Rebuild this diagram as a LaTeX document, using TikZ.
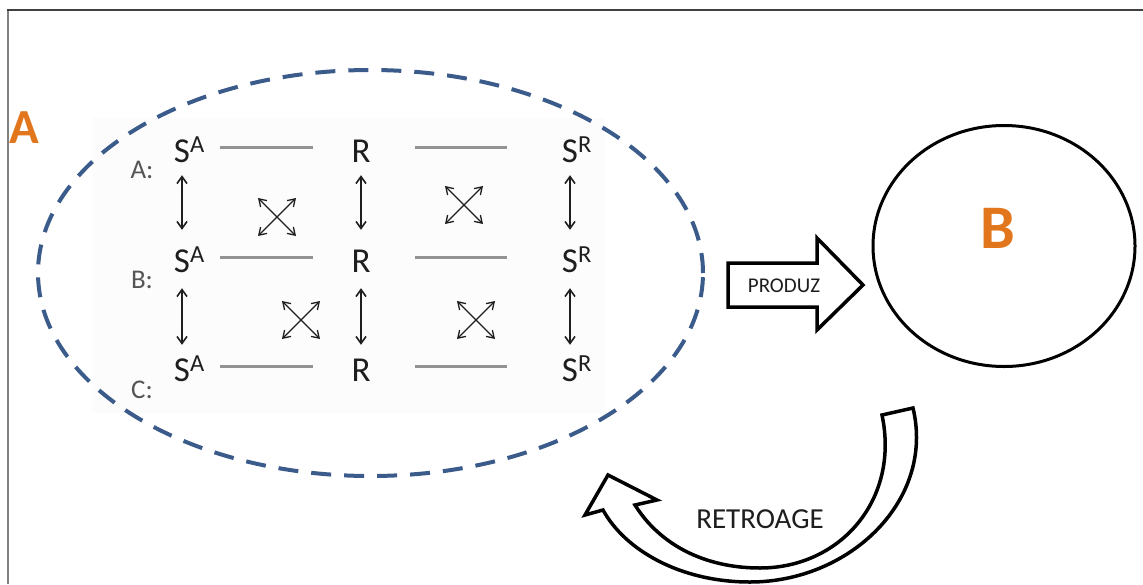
\documentclass[tikz,border=0pt]{standalone}
\usepackage{fontspec}
\setmainfont{Carlito}
\usetikzlibrary{arrows.meta,shapes.geometric}
\definecolor{dashblue}{HTML}{3B5B8A}
\definecolor{orangeA}{HTML}{E2761C}
\definecolor{lbl}{HTML}{555555}
\definecolor{txt}{HTML}{1E1E1E}
\definecolor{panel}{HTML}{FCFCFC}
\begin{document}
\begin{tikzpicture}[x=1pt,y=-1pt,
  sym/.style={inner sep=0pt, text height=23pt, text depth=0pt, anchor=base, font=\fontsize{35}{35}\selectfont, text=txt},
  rowlbl/.style={font=\fontsize{27}{27}\selectfont, text=lbl, inner sep=0pt},
  vdbl/.style={{Straight Barb[length=7pt,width=10pt]}-{Straight Barb[length=7pt,width=10pt]}, line width=1.6pt, draw=txt},
  hline/.style={draw=gray!85, line width=2.2pt},
  xarr/.style={{Straight Barb[length=7pt,width=9pt]}-{Straight Barb[length=7pt,width=9pt]}, line width=1.3pt, draw=txt},
  big/.style={font=\fontsize{#1}{#1}\selectfont\bfseries, text=orangeA, inner sep=0pt},
  fat/.style={draw=black, line width=3.5pt, fill=white, line join=miter},
]
\useasboundingbox (0,0) rectangle (1143,584);
% frame
\draw[gray, line width=2pt] (8,584) -- (8,10);
\draw[black!75, line width=1.5pt] (7,10) -- (1143,10);

% faint panel behind the table
\fill[panel] (92,118) rectangle (605,413);

% dashed ellipse A
\node[ellipse, draw=dashblue, line width=4pt, dash pattern=on 20pt off 13pt,
      minimum width=665pt, minimum height=406pt, inner sep=0pt] (ellA) at (370.5,273) {};
\node[big=49] (labA) at (24,128) {A};

% symbols
\node[sym] (sa1) at (182,162) {S\rlap{\textsuperscript{A}}};
\node[sym] (sa2) at (182,272) {S\rlap{\textsuperscript{A}}};
\node[sym] (sa3) at (182,381) {S\rlap{\textsuperscript{A}}};
\node[sym] (r1) at (361,162) {R};
\node[sym] (r2) at (361,272) {R};
\node[sym] (r3) at (361,381) {R};
\node[sym] (sr1) at (570,162) {S\rlap{\textsuperscript{R}}};
\node[sym] (sr2) at (570,272) {S\rlap{\textsuperscript{R}}};
\node[sym] (sr3) at (570,381) {S\rlap{\textsuperscript{R}}};

\node[rowlbl] (la) at (142,170) {A:};
\node[rowlbl] (lb) at (142,280) {B:};
\node[rowlbl] (lc) at (142,390) {C:};

% vertical double arrows
\foreach \c in {sa,r,sr}{
  \draw[vdbl, shorten <=13pt, shorten >=19pt] (\c1.south) -- (\c2.north);
  \draw[vdbl, shorten <=16pt, shorten >=13pt] (\c2.south) -- (\c3.north);
}

% horizontal grey lines
\foreach \i in {1,2,3}{
  \draw[hline, shorten <=30pt, shorten >=38pt] ([yshift=3pt]sa\i.east) -- ([yshift=3pt]r\i.west);
  \draw[hline, shorten <=44pt, shorten >=55pt] ([yshift=3pt]r\i.east) -- ([yshift=3pt]sr\i.west);
}

% crossed arrows
\coordinate (c1) at (277,217);
\coordinate (c2) at (301,320);
\coordinate (c3) at (464,205);
\coordinate (c4) at (476,320);
\foreach \c in {c1,c2,c3,c4}{
  \draw[xarr] ([shift={(-19,19)}]\c) -- ([shift={(19,-19)}]\c);
  \draw[xarr] ([shift={(-19,-19)}]\c) -- ([shift={(19,19)}]\c);
}

% PRODUZ block arrow
\draw[fat] (728,263) -- (817,263) -- (817,238) -- (863,285) -- (817,330) -- (817,307) -- (728,307) -- cycle;
\node[font=\fontsize{21}{21}\selectfont, text=txt, inner sep=0pt] (produz) at (784,286) {PRODUZ};

% circle B
\node[ellipse, draw=black, line width=3pt, minimum width=262pt, minimum height=241pt, inner sep=0pt] (circB) at (1004,246) {};
\node[big=62] (labB) at (998,228) {B};

% RETROAGE curved arrow
\draw[fat, line join=miter]
  (913,408) .. controls (935,500) and (850,582) .. (750,582)
  .. controls (680,582) and (625,550) .. (603,510)
  -- (585,515) -- (608,475) -- (657,500) -- (635,505)
  .. controls (660,545) and (705,568) .. (760,568)
  .. controls (840,568) and (900,500) .. (882,415) -- cycle;
\node[font=\fontsize{29}{29}\selectfont, text=txt, inner sep=0pt] (retro) at (760,519) {RETROAGE};
\end{tikzpicture}
\end{document}
